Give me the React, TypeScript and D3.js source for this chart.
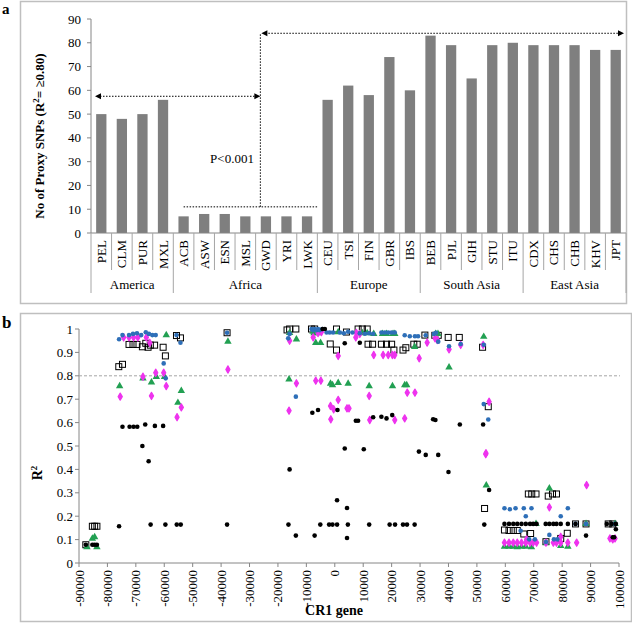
import React from "react";
import * as d3 from "d3";

// ---------- Panel a data ----------
const populations = ["PEL","CLM","PUR","MXL","ACB","ASW","ESN","MSL","GWD","YRI","LWK","CEU","TSI","FIN","GBR","IBS","BEB","PJL","GIH","STU","ITU","CDX","CHS","CHB","KHV","JPT"];
const proxyCounts = [50,48,50,56,7,8,8,7,7,7,7,56,62,58,74,60,83,79,65,79,80,79,79,79,77,77];
const regions = ["America","Africa","Europe","South Asia","East Asia"];
const regionSizes = [4,7,5,5,5];
const yTicksA = [0,10,20,30,40,50,60,70,80,90];

// ---------- Panel b data ([position, R2]) ----------
const blackSquares: [number, number][] = [
  [-87600,0.078],[-85300,0.157],[-84500,0.157],[-83700,0.157],
  [-76000,0.839],[-74700,0.849],
  [-72400,0.934],[-71000,0.934],[-69600,0.934],[-67700,0.924],[-66500,0.939],[-65700,0.922],[-64900,0.931],[-63400,0.931],
  [-60400,0.922],[-59600,0.885],[-55700,0.972],[-54300,0.962],[-37900,0.984],
  [-16800,0.996],[-15900,1.0],[-13700,1.0],[-8200,1.0],[-7100,1.0],[600,1.0],[4100,0.987],[8200,1.0],[9700,1.0],[11400,1.0],
  [-1600,0.936],[600,0.91],[11700,0.935],[13300,0.935],[16400,0.935],[18200,0.935],[20000,0.935],[20800,0.91],[24000,0.91],[25000,0.92],[27800,0.935],[29000,0.935],
  [31700,0.974],[35200,0.973],[36400,0.973],[39900,0.964],[43800,0.964],[52000,0.922],
  [52700,0.233],[54000,0.668],
  [59700,0.141],[61300,0.139],[62800,0.139],[64200,0.139],[66500,0.124],[68900,0.126],
  [68100,0.295],[69300,0.295],[70800,0.295],[75100,0.286],[76600,0.295],[78000,0.295],
  [74300,0.091],[79500,0.105],[81800,0.127],[84700,0.167],[88400,0.167],[96200,0.167],[97800,0.167]
];
const blueDots: [number, number][] = [
  [-75900,0.956],[-74700,0.974],[-72400,0.974],[-71000,0.979],[-69600,0.982],[-68100,0.974],[-66500,0.986],[-65400,0.979],[-64200,0.974],[-63000,0.974],
  [-60200,0.853],[-59500,0.789],[-55700,0.974],[-54300,0.941],[-37900,0.984],
  [-16400,0.96],[-15900,0.979],[-13700,0.711],[-8200,1.0],[-7100,1.0],[-5900,1.0],[-4400,1.0],
  [-7600,0.995],[-6500,0.995],[-5300,0.995],[-2900,0.985],[-1800,0.985],[-600,0.985],[1800,0.985],[3200,0.982],[4700,0.988],[6200,0.985],
  [8800,0.982],[10600,0.98],[12100,0.982],[13500,0.98],[16400,0.985],[17600,0.985],[18800,0.985],[20000,0.985],[21100,0.985],
  [24600,0.973],[26400,0.969],[28200,0.969],[29300,0.969],[32000,0.973],[34900,0.979],[35600,0.984],[36400,0.946],
  [40200,0.926],[44300,0.936],[52400,0.933],[52400,0.679],[54000,0.613],
  [59700,0.234],[61600,0.23],[63600,0.234],[66500,0.234],[69200,0.234],[82000,0.234],[67200,0.2],[79500,0.2],
  [65400,0.138],[68400,0.101],[70400,0.101],[75500,0.12],[74300,0.09],[77100,0.101],[78300,0.101],
  [84700,0.167],[88400,0.167],[98600,0.167]
];
const magentaDiamonds: [number, number][] = [
  [-75500,0.711],[-74300,0.964],[-72400,0.964],[-70800,0.964],[-69300,0.964],[-67500,0.796],[-66300,0.964],[-65100,0.941],
  [-64500,0.714],[-63000,0.813],[-60200,0.813],[-59300,0.756],[-55500,0.623],[-54000,0.665],[-37600,0.827],
  [-16100,0.651],[-15900,0.95],[-13500,0.768],[-7600,0.964],[-6700,0.779],[-4900,0.779],[-5900,0.983],[-4700,0.987],
  [-1500,0.671],[-400,0.657],[-1400,0.614],[1200,0.885],[1200,0.697],[4300,0.661],[5000,0.661],
  [7400,0.964],[7600,0.983],[8800,0.979],[12100,0.714],[12300,0.611],
  [13700,0.889],[17000,0.889],[18800,0.889],[20300,0.889],[21100,0.889],[21100,0.611],[24600,0.618],[25500,0.728],[28200,0.728],
  [29700,0.875],[32500,0.942],[35300,0.96],[36100,0.953],[40200,0.913],[44300,0.932],[52200,0.932],[53100,0.465],[54300,0.689],
  [53200,0.469],[88600,0.333],[75500,0.238],[67500,0.101],
  [59700,0.087],[61300,0.087],[62800,0.087],[64200,0.087],[65700,0.087],[67200,0.087],[68700,0.087],[69800,0.087],[71000,0.087],
  [74300,0.087],[76900,0.087],[78000,0.087],[79500,0.087],[82000,0.087],[85100,0.087],
  [79500,0.112],[96800,0.105],[97800,0.101],[98600,0.105]
];
const greenTriangles: [number, number][] = [
  [-87200,0.068],[-85300,0.104],[-84500,0.111],[-83700,0.068],
  [-75700,0.756],[-67500,0.789],[-64500,0.772],[-62800,0.796],[-59900,0.796],[-59300,0.974],[-55200,0.685],[-54000,0.736],[-37600,0.946],
  [-16100,0.785],[-15900,0.984],[-13500,0.956],[-7700,0.989],[-6700,0.941],[-5000,0.941],[-7300,0.983],[-5900,0.983],
  [1200,0.987],[9700,0.983],[11400,0.983],
  [-1500,0.767],[-800,0.76],[1200,0.77],[4700,0.767],[12100,0.756],[20300,0.756],[24600,0.76],[25300,0.76],
  [13700,0.979],[16800,0.979],[18200,0.979],[20500,0.979],[21100,0.979],[35500,0.979],[36300,0.979],
  [40200,0.836],[52400,0.967],[53300,0.332],[28100,0.924],
  [75500,0.319],
  [59700,0.07],[61300,0.07],[62800,0.07],[64200,0.068],[65700,0.07],[67200,0.07],[69200,0.068],
  [74300,0.087],[79500,0.073],[82000,0.07],[70800,0.167],[88400,0.167],[98600,0.167]
];
const blackDots: [number, number][] = [
  [-87600,0.078],[-85300,0.078],[-84500,0.078],[-83700,0.078],
  [-75900,0.157],
  [-74700,0.582],[-72200,0.582],[-70800,0.582],[-69500,0.582],[-66700,0.592],[-63300,0.586],[-60400,0.586],
  [-67700,0.50],[-65500,0.435],
  [-64800,0.164],[-59600,0.164],[-55600,0.164],[-54200,0.164],[-37900,0.164],[-16300,0.164],
  [-15900,0.40],[-13700,0.117],[-7100,0.117],
  [-5100,0.164],[-2000,0.164],[-800,0.164],[800,0.164],
  [-7900,0.642],[-5900,0.654],[950,0.654],
  [800,0.268],[4300,0.235],[4300,0.107],
  [4600,0.164],[12100,0.164],[19300,0.164],[21200,0.164],[24000,0.164],[25400,0.164],[28100,0.164],[52600,0.164],
  [3500,0.489],[10200,0.486],[29600,0.476],[32000,0.462],[36400,0.462],[40000,0.389],[44000,0.592],[52200,0.592],
  [7400,0.608],[8200,0.608],[13500,0.623],[16400,0.625],[18200,0.618],[20200,0.632],[34600,0.614],[35400,0.611],
  [54300,0.312],[3500,0.939],[8800,0.941],
  [-4300,1.0],[-3500,1.0],
  [59700,0.167],[61300,0.167],[62800,0.167],[64200,0.167],[65700,0.167],[67200,0.167],[68700,0.167],[69800,0.167],[71000,0.167],
  [74200,0.167],[75500,0.167],[76900,0.167],[78000,0.167],[79500,0.167],[82000,0.167],[84700,0.167],[95700,0.167],[97400,0.167],[98900,0.167],
  [88400,0.117],[97800,0.11],[98300,0.11],[98900,0.144]
];
const xTicksB = d3.range(-90000, 100001, 10000);
const yTicksB = d3.range(0, 1.0001, 0.1);

const SERIF = "Liberation Serif, Times New Roman, serif";
const FRAME = "#BFBFBF";

function Arrow({ x, y, dir }: { x: number; y: number; dir: "l" | "r" }) {
  const s = dir === "r" ? -1 : 1;
  return <path d={`M${x},${y} L${x + s * 6},${y - 3} L${x + s * 6},${y + 3} Z`} fill="#000" />;
}

export default function App() {
  // ---------- Panel a scales ----------
  const xA = d3.scaleBand<string>().domain(populations).range([91, 626]).padding(0);
  const yA = d3.scaleLinear().domain([0, 90]).range([233, 19]);
  const bw = xA.bandwidth();
  const barW = bw * 0.5;

  const boundaries: number[] = [];
  let acc = 0;
  regionSizes.forEach((n) => {
    boundaries.push(acc);
    acc += n;
  });
  boundaries.push(acc);
  const bx = (i: number) => 91 + i * bw;

  const yMid = yA(57.5);
  const yTop = yA(84);
  const yLow = yA(11);
  const xV = (xA("GWD") as number) + bw * 0.23;
  const xLeftStart = (xA("PEL") as number) + 4;
  const xLowStart = (xA("ACB") as number) + bw * 0.5;
  const xLowEnd = (xA("CEU") as number) + 1;
  const xRightEnd = 624;

  // ---------- Panel b scales ----------
  const xB = d3.scaleLinear().domain([-90000, 100000]).range([79, 619]);
  const yB = d3.scaleLinear().domain([0, 1]).range([563, 329]);
  const diamond = d3.symbol().type(d3.symbolDiamond).size(15)() as string;
  const tri = d3.symbol().type(d3.symbolTriangle).size(24)() as string;

  return (
    <svg width={632} height={623} style={{ display: "block", position: "absolute", left: 0, top: 0, fontFamily: SERIF }}>
      {/* ===== Panel a ===== */}
      <rect x={20.5} y={1.5} width={606} height={302} fill="#fff" stroke={FRAME} strokeWidth={1.5} />
      <text x={2} y={14} fontSize={15} fontWeight="bold">a</text>

      <line x1={91} x2={91} y1={yA(90)} y2={yA(0)} stroke="#868686" />
      {yTicksA.map((t) => (
        <g key={t}>
          <line x1={87} x2={91} y1={yA(t)} y2={yA(t)} stroke="#868686" />
          <text x={81} y={yA(t)} textAnchor="end" dominantBaseline="central" fontSize={13}>{t}</text>
        </g>
      ))}
      <text transform={`translate(44,136) rotate(-90)`} textAnchor="middle" fontSize={13} fontWeight="bold">
        No of Proxy SNPs (R<tspan dy={-5} fontSize={9}>2</tspan><tspan dy={5}>= ≥0.80)</tspan>
      </text>

      {populations.map((p, i) => (
        <rect key={p} x={(xA(p) as number) + (bw - barW) / 2} y={yA(proxyCounts[i])} width={barW}
          height={yA(0) - yA(proxyCounts[i])} fill="#7F7F7F" />
      ))}

      <line x1={91} x2={626} y1={233} y2={233} stroke="#868686" />
      {d3.range(populations.length + 1).map((i) => {
        const isGroup = boundaries.includes(i);
        return <line key={i} x1={bx(i)} x2={bx(i)} y1={233} y2={isGroup ? 293 : 270} stroke="#A6A6A6" />;
      })}
      {populations.map((p) => (
        <text key={p} transform={`translate(${(xA(p) as number) + bw / 2},240) rotate(-90)`} textAnchor="end"
          dominantBaseline="central" fontSize={13}>{p}</text>
      ))}
      {regions.map((r, i) => (
        <text key={r} x={(bx(boundaries[i]) + bx(boundaries[i + 1])) / 2} y={289} textAnchor="middle" fontSize={13}>{r}</text>
      ))}

      <g stroke="#000" strokeWidth={1} strokeDasharray="1.5,1.5" fill="none">
        <line x1={xLeftStart + 5} x2={xV - 5} y1={yMid} y2={yMid} />
        <line x1={xV} x2={xV} y1={yLow} y2={yTop} />
        <line x1={xV + 5} x2={xRightEnd - 5} y1={yTop} y2={yTop} />
        <line x1={xLowStart} x2={xLowEnd} y1={yLow} y2={yLow} />
      </g>
      <Arrow x={xLeftStart} y={yMid} dir="l" />
      <Arrow x={xV} y={yMid} dir="r" />
      <Arrow x={xV + 1} y={yTop} dir="l" />
      <Arrow x={xRightEnd} y={yTop} dir="r" />
      <text x={232} y={163} textAnchor="middle" fontSize={13}>P&lt;0.001</text>

      {/* ===== Panel b ===== */}
      <rect x={20.5} y={313.5} width={611} height={308} fill="#fff" stroke={FRAME} strokeWidth={1.5} />
      <text x={2} y={328} fontSize={17} fontWeight="bold">b</text>

      <line x1={79} x2={79} y1={yB(1)} y2={yB(0)} stroke="#868686" />
      {yTicksB.map((t) => (
        <g key={t}>
          <line x1={75} x2={79} y1={yB(t)} y2={yB(t)} stroke="#868686" />
          <text x={73} y={yB(t)} textAnchor="end" dominantBaseline="central" fontSize={13}>{d3.format("~g")(+t.toFixed(1))}</text>
        </g>
      ))}
      <text transform={`translate(42,473) rotate(-90)`} textAnchor="middle" fontSize={14} fontWeight="bold">
        R<tspan dy={-5} fontSize={9}>2</tspan>
      </text>

      <line x1={79} x2={619} y1={563} y2={563} stroke="#868686" />
      {xTicksB.map((t) => (
        <g key={t}>
          <line x1={xB(t)} x2={xB(t)} y1={563} y2={567} stroke="#868686" />
          <text transform={`translate(${xB(t)},570) rotate(-90)`} textAnchor="end" dominantBaseline="central" fontSize={13}>{t}</text>
        </g>
      ))}
      <text x={334} y={615} textAnchor="middle" fontSize={14} fontWeight="bold">CR1 gene</text>

      <line x1={79} x2={620} y1={yB(0.8)} y2={yB(0.8)} stroke="#A6A6A6" strokeDasharray="3,2" />

      {blackSquares.map(([x, y], i) => (
        <rect key={"s" + i} x={xB(x) - 3} y={yB(y) - 3} width={6} height={6} fill="none" stroke="#000" strokeWidth={1} />
      ))}
      {greenTriangles.map(([x, y], i) => (
        <path key={"g" + i} d={tri} transform={`translate(${xB(x)},${yB(y)})`} fill="#22A052" />
      ))}
      {magentaDiamonds.map(([x, y], i) => (
        <path key={"m" + i} d={diamond} transform={`translate(${xB(x)},${yB(y)})`} fill="#EE33EE" stroke="#EE33EE" strokeWidth={1.2} strokeLinejoin="round" />
      ))}
      {blueDots.map(([x, y], i) => (
        <circle key={"b" + i} cx={xB(x)} cy={yB(y)} r={2.3} fill="#2E6FB8" />
      ))}
      {blackDots.map(([x, y], i) => (
        <circle key={"k" + i} cx={xB(x)} cy={yB(y)} r={2.3} fill="#000" />
      ))}
    </svg>
  );
}
